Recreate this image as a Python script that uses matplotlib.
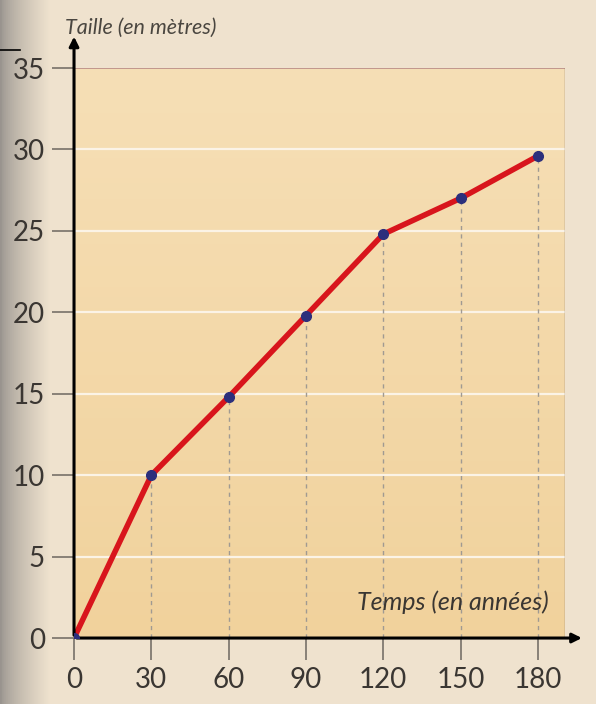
import numpy as np
import matplotlib.pyplot as plt

# Données : taille d'un arbre selon son âge
annees = [0, 30, 60, 90, 120, 150, 180]
taille = [0, 10, 14.8, 19.8, 24.8, 27, 29.6]
yticks = [0, 5, 10, 15, 20, 25, 30, 35]

plt.rcParams['font.family'] = ['Lato', 'DejaVu Sans']

fig = plt.figure(figsize=(5.96, 7.04), dpi=100)
fig.patch.set_facecolor('#efe3cf')

# ombre grise du scan sur le bord gauche
bg = fig.add_axes([0, 0, 1, 1], zorder=-5)
grad = np.linspace(0, 1, 300)
shade = np.clip(grad * 12, 0, 1) ** 0.7
img = np.zeros((2, 300, 3))
left = np.array([0.60, 0.58, 0.56])
paper = np.array([0.94, 0.89, 0.81])
for k in range(3):
    img[:, :, k] = left[k] + (paper[k] - left[k]) * shade
bg.imshow(img, aspect='auto', extent=[0, 1, 0, 1])
bg.axis('off')

ax = fig.add_axes([0.1242, 0.0937, 0.8238, 0.8097])
ax.set_xlim(0, 190.5)
ax.set_ylim(0, 35)

# fond orangé avec léger dégradé
panel = np.linspace(0, 1, 200).reshape(-1, 1)
ax.imshow(panel, cmap=plt.matplotlib.colors.LinearSegmentedColormap.from_list(
    'p', ['#f6dfb6', '#f1d29c']), aspect='auto',
    extent=[0, 190.5, 0, 35], zorder=0)

for y in yticks[1:-1]:
    ax.axhline(y, color='#fbf3e6', lw=1.6, zorder=1)
ax.axhline(35, color='#b88a86', lw=1.2, zorder=1)
ax.axvline(190.5, color='#8a7b6c', lw=1.0, zorder=1)

for x, y in zip(annees[1:], taille[1:]):
    ax.plot([x, x], [0, y], color='#a09a92', lw=1.0, ls=(0, (3, 3)), zorder=2)

ax.plot(annees, taille, color='#d8151c', lw=4, zorder=3,
        solid_joinstyle='round', solid_capstyle='round')
ax.plot(annees, taille, 'o', color='#2c2f7c', ms=7, zorder=4)

for s in ['top', 'right', 'left', 'bottom']:
    ax.spines[s].set_visible(False)

ax.set_xticks(annees)
ax.set_yticks(yticks)
ax.tick_params(axis='both', colors='#777068', length=16, width=1.2,
               labelsize=20, labelcolor='#3a3632', pad=5)

# axes fléchés
ax.annotate('', xy=(1.04, 0), xytext=(0, 0), xycoords='axes fraction',
            arrowprops=dict(arrowstyle='-|>', color='black', lw=2.2,
                            mutation_scale=14), annotation_clip=False)
ax.annotate('', xy=(0, 1.06), xytext=(0, 0), xycoords='axes fraction',
            arrowprops=dict(arrowstyle='-|>', color='black', lw=2.2,
                            mutation_scale=14), annotation_clip=False)

fig.text(65 / 596, 1 - 28 / 704, 'Taille (en mètres)', fontsize=15.5,
         style='italic', color='#4a4640', va='center', ha='left')
ax.text(184, 1.5, 'Temps (en années)', fontsize=18, style='italic',
        color='#3a3632', ha='right', va='bottom')

fig.add_artist(plt.Line2D([0, 20 / 596], [1 - 50 / 704, 1 - 50 / 704],
                          color='black', lw=1.2))

fig.savefig('out.png', dpi=100, facecolor=fig.get_facecolor())
